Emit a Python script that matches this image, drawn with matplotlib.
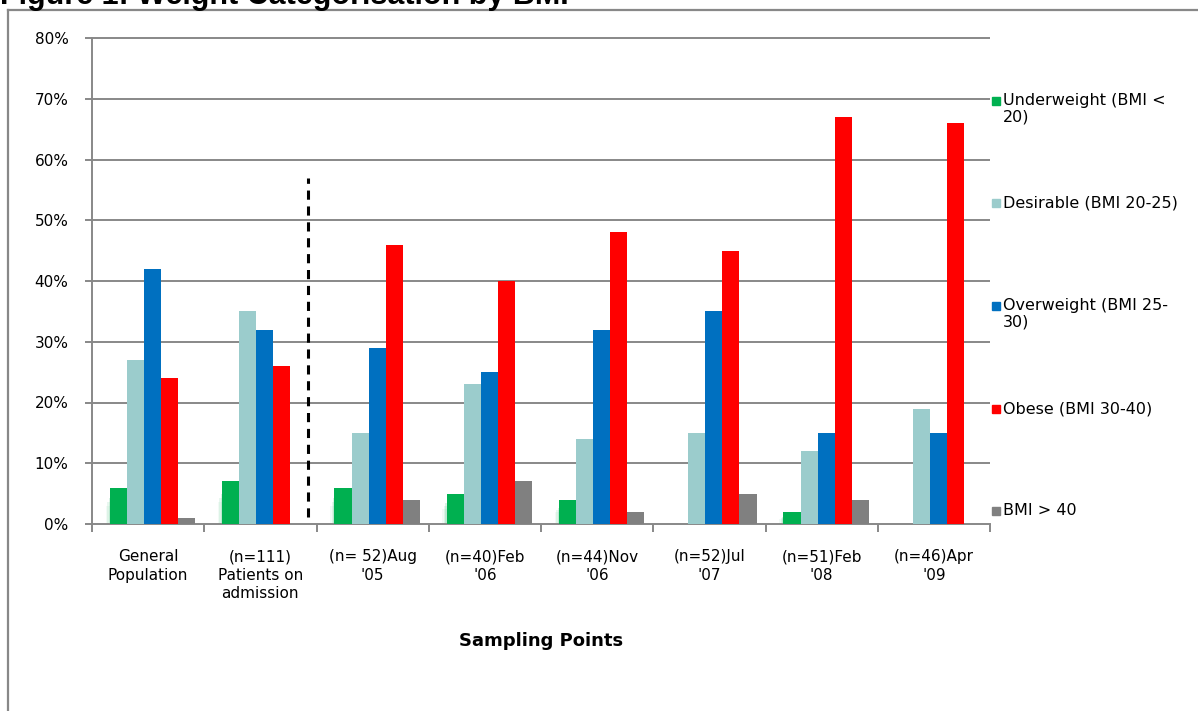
import numpy as np
import matplotlib
matplotlib.use("Agg")
import matplotlib.pyplot as plt
from matplotlib.lines import Line2D

# sampling points on the x axis
categories = ["General\nPopulation", "(n=111)\nPatients on\nadmission",
              "(n= 52)Aug\n'05", "(n=40)Feb\n'06", "(n=44)Nov\n'06",
              "(n=52)Jul\n'07", "(n=51)Feb\n'08", "(n=46)Apr\n'09"]

# percentage of subjects in each BMI band
underweight = [6, 7, 6, 5, 4, 0, 2, 0]
desirable = [27, 35, 15, 23, 14, 15, 12, 19]
overweight = [42, 32, 29, 25, 32, 35, 15, 15]
obese = [24, 26, 46, 40, 48, 45, 67, 66]
bmi_over_40 = [1, 0, 4, 7, 2, 5, 4, 0]

series_names = ["Underweight (BMI <\n20)", "Desirable (BMI 20-25)",
                "Overweight (BMI 25-\n30)", "Obese (BMI 30-40)", "BMI > 40"]
colors = ["#00b050", "#9bcccc", "#0070c0", "#ff0000", "#808080"]
yticks = np.arange(0, 81, 10)

plt.rcParams["font.family"] = ["DejaVu Sans"]
GRID = "#888888"

fig = plt.figure(figsize=(11.98, 7.11), dpi=100)
W, H = 1198, 711
ax = fig.add_axes([92 / W, 1 - 524 / H, (990 - 92) / W, (524 - 38) / H])

x = np.arange(len(categories))
width = 0.152
offset0 = 0.04
data = [underweight, desirable, overweight, obese, bmi_over_40]
for i, (vals, c) in enumerate(zip(data, colors)):
    pos = x + offset0 + (i - 2) * width
    if i == 0:
        # soft glow around the underweight bars
        for k, a in enumerate([0.14, 0.09, 0.05]):
            d = (k + 1) * 0.013
            ax.bar(pos - d, [v * (0.75 - 0.1 * k) if v else 0 for v in vals],
                   width, bottom=-0.3, color=c, alpha=a, lw=0, zorder=2)
    ax.bar(pos, vals, width, color=c, lw=0, zorder=3)

ax.set_xlim(-0.5, len(categories) - 0.5)
ax.set_ylim(0, 80)
ax.set_yticks(yticks)
ax.set_yticklabels([f"{v}%" for v in yticks], fontsize=11)
# horizontal gridlines, unclipped so the 80% line is drawn in full
ax.hlines(yticks[1:], -0.5, len(categories) - 0.5, color=GRID, lw=1.4,
          zorder=1, clip_on=False)

ax.set_xticks(x)
ax.set_xticklabels(categories, fontsize=11, linespacing=1.3)
ax.set_xticks(np.arange(-0.5, len(categories)), minor=True)
ax.tick_params(axis="x", which="major", length=0, pad=18)
ax.tick_params(axis="x", which="minor", length=6, color=GRID, width=1.4)
ax.tick_params(axis="y", length=5, color=GRID, width=1.4, pad=12)

for s in ["top", "right"]:
    ax.spines[s].set_visible(False)
for s in ["left", "bottom"]:
    ax.spines[s].set_color(GRID)
    ax.spines[s].set_linewidth(1.4)

# separator between the baseline groups and the sampling rounds
ax.plot([1.425, 1.425], [1.2, 57], color="black", ls=(0, (3, 2.2)), lw=2.2, zorder=4)

ax.set_xlabel("Sampling Points", fontsize=13, fontweight="bold", labelpad=22)

# legend entries stacked down the right side
legend_y = [101, 203, 306, 409, 511]
for name, c, yy in zip(series_names, colors, legend_y):
    fy = 1 - yy / H
    fig.patches.append(plt.Rectangle((992 / W, fy - 4 / H), 8 / W, 8 / H,
                                     transform=fig.transFigure, color=c))
    fig.text(1003 / W, fy + 8 / H, name, fontsize=11.5, va="top", ha="left",
             linespacing=1.1)

# outer frame and title above it
fig.add_artist(Line2D([8 / W, 8 / W], [0, 1 - 10 / H], color=GRID, lw=1.6,
                      transform=fig.transFigure))
fig.add_artist(Line2D([8 / W, 1], [1 - 10 / H, 1 - 10 / H], color=GRID, lw=1.6,
                      transform=fig.transFigure))
fig.text(0, 1 - 4 / H, "Figure 1: Weight Categorisation by BMI",
         family="Liberation Sans", fontsize=22, fontweight="bold", va="baseline")

fig.savefig("out.png", dpi=100)
